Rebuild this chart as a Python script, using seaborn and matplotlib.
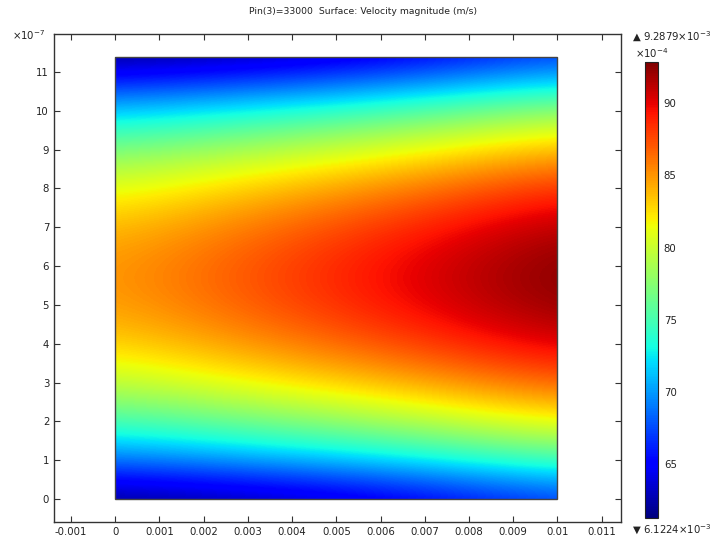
import numpy as np
import matplotlib
matplotlib.use("Agg")
import matplotlib.pyplot as plt
from matplotlib.patches import Rectangle
import seaborn as sns

# ---------------- data ----------------
x_nodes = [0.0, 0.0025, 0.005, 0.0075, 0.01]                      # m
y_nodes_e7 = [0.0, 1.14, 2.28, 3.42, 4.56, 5.7, 6.84, 7.98, 9.12, 10.26, 11.4]  # x1e-7 m
# velocity magnitude (x1e-4 m/s), one column per x node, bottom -> top
vel_x0 = [61.22, 69.78, 76.44, 81.19, 84.05, 85.00, 84.05, 81.19, 76.44, 69.78, 61.22]
vel_x1 = [61.95, 70.96, 77.96, 82.97, 85.97, 86.97, 85.97, 82.97, 77.96, 70.96, 61.95]
vel_x2 = [62.95, 72.31, 79.58, 84.78, 87.90, 88.94, 87.90, 84.78, 79.58, 72.31, 62.95]
vel_x3 = [64.59, 74.07, 81.43, 86.70, 89.86, 90.91, 89.86, 86.70, 81.43, 74.07, 64.59]
vel_x4 = [66.56, 76.04, 83.40, 88.67, 91.83, 92.88, 91.83, 88.67, 83.40, 76.04, 66.56]
vel_min_e4 = 61.224
vel_max_e4 = 92.879

x_ticks = [-0.001, 0, 0.001, 0.002, 0.003, 0.004, 0.005, 0.006, 0.007, 0.008, 0.009, 0.01, 0.011]
x_tick_labels = ["-0.001", "0", "0.001", "0.002", "0.003", "0.004", "0.005", "0.006",
                 "0.007", "0.008", "0.009", "0.01", "0.011"]
y_ticks = [0, 1, 2, 3, 4, 5, 6, 7, 8, 9, 10, 11]
cbar_ticks = [65, 70, 75, 80, 85, 90]
title_text = "Pin(3)=33000  Surface: Velocity magnitude (m/s)"
max_label = "\u25B2 9.2879\u00D710$^{-3}$"
min_label = "\u25BC 6.1224\u00D710$^{-3}$"

# ---------------- style ----------------
sns.set_theme(style="white")
plt.rcParams["font.family"] = ["DejaVu Sans"]
plt.rcParams["mathtext.fontset"] = "dejavusans"
txt_color = "#222222"
fs = 7.3

fig = plt.figure(figsize=(7.26, 5.45), dpi=100)
fig.patch.set_facecolor("white")

W, H = 726.0, 545.0
ax = fig.add_axes([54 / W, 1 - 521.7 / H, (620.5 - 54) / W, (521.7 - 34) / H])
cax = fig.add_axes([645 / W, 1 - 518 / H, 13.3 / W, 456 / H])

cmap = matplotlib.colormaps["jet"]

C = np.column_stack([vel_x0, vel_x1, vel_x2, vel_x3, vel_x4])
dx = x_nodes[1] - x_nodes[0]
dy = y_nodes_e7[1] - y_nodes_e7[0]
# pixel centres sit on the nodes; the image is clipped to the domain below
img = ax.imshow(C, origin="lower", aspect="auto", cmap=cmap,
                vmin=vel_min_e4, vmax=vel_max_e4,
                interpolation="bicubic", interpolation_stage="data",
                extent=[x_nodes[0] - dx / 2, x_nodes[-1] + dx / 2,
                        y_nodes_e7[0] - dy / 2, y_nodes_e7[-1] + dy / 2])

domain = Rectangle((x_nodes[0], y_nodes_e7[0]), x_nodes[-1] - x_nodes[0],
                   y_nodes_e7[-1] - y_nodes_e7[0], fill=False,
                   ec="#444444", lw=1.0, zorder=3, transform=ax.transData)
ax.add_patch(domain)
img.set_clip_path(domain)

ax.set_xlim(-0.001385, 0.011425)
ax.set_ylim(-0.585, 11.98)
ax.set_xticks(x_ticks)
ax.set_xticklabels(x_tick_labels)
ax.set_yticks(y_ticks)
ax.set_yticklabels([str(t) for t in y_ticks])
ax.tick_params(direction="in", length=4, width=0.8, top=True, right=True,
               bottom=True, left=True, labelsize=fs, colors="#333333",
               labelcolor=txt_color, pad=3.5)
for s in ax.spines.values():
    s.set_color("#333333")
    s.set_linewidth(1.0)
ax.set_facecolor("white")

fig.text(12 / W, 1 - 35 / H, r"$\times$10$^{-7}$", fontsize=fs, color=txt_color,
         ha="left", va="center")

# colorbar
cb = fig.colorbar(img, cax=cax, ticks=cbar_ticks)
cb.outline.set_edgecolor("#222222")
cb.outline.set_linewidth(0.8)
cax.tick_params(direction="in", length=3, width=0.8, left=True, right=True,
                labelsize=fs, labelcolor=txt_color, colors="#222222", pad=4)
cax.set_yticklabels([str(t) for t in cbar_ticks])

fig.text(652 / W, 1 - 53 / H, "\u00D710$^{-4}$", fontsize=fs, color=txt_color,
         ha="center", va="center")
fig.text(632 / W, 1 - 37 / H, max_label, fontsize=fs, color=txt_color,
         ha="left", va="center")
fig.text(632 / W, 1 - 530 / H, min_label, fontsize=fs, color=txt_color,
         ha="left", va="center")

fig.text(0.5, 1 - 12 / H, title_text, fontsize=6.7, color=txt_color,
         ha="center", va="center")

fig.savefig("out.png", dpi=100, facecolor="white")
